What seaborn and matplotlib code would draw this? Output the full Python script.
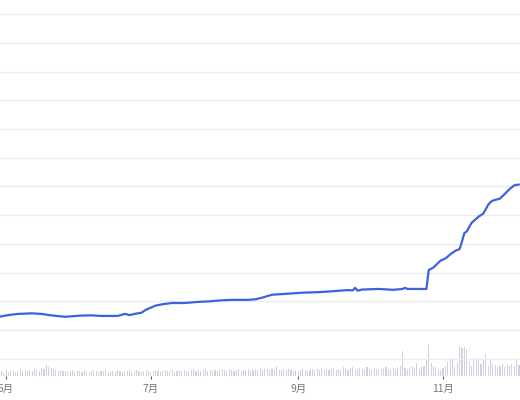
import pandas as pd
import seaborn as sns
import matplotlib.pyplot as plt

# price line at its turning points (no y labels shown, so units are grid steps)
price_dates = ['2023-04-28', '2023-05-02', '2023-05-06', '2023-05-12', '2023-05-16',
               '2023-05-20', '2023-05-26', '2023-06-01', '2023-06-06', '2023-06-10',
               '2023-06-17', '2023-06-20', '2023-06-22', '2023-06-25', '2023-06-27',
               '2023-06-29', '2023-07-03', '2023-07-06', '2023-07-10', '2023-07-15',
               '2023-07-21', '2023-07-26', '2023-07-30', '2023-08-04', '2023-08-11',
               '2023-08-14', '2023-08-17', '2023-08-21', '2023-08-25', '2023-09-03',
               '2023-09-10', '2023-09-17', '2023-09-22', '2023-09-24', '2023-09-25',
               '2023-09-26', '2023-09-28', '2023-10-05', '2023-10-11', '2023-10-15',
               '2023-10-16', '2023-10-17', '2023-10-25', '2023-10-26', '2023-10-28',
               '2023-10-31', '2023-11-02', '2023-11-04', '2023-11-06', '2023-11-08',
               '2023-11-09', '2023-11-10', '2023-11-11', '2023-11-13', '2023-11-16',
               '2023-11-18', '2023-11-20', '2023-11-21', '2023-11-22', '2023-11-25',
               '2023-11-27', '2023-11-29', '2023-12-01', '2023-12-03']
price_values = [2.46, 2.52, 2.56, 2.58, 2.56,
                2.51, 2.46, 2.50, 2.51, 2.49,
                2.49, 2.56, 2.52, 2.575, 2.60,
                2.71, 2.85, 2.90, 2.94, 2.94,
                2.98, 3.00, 3.03, 3.05, 3.05,
                3.07, 3.13, 3.23, 3.25, 3.30,
                3.32, 3.36, 3.39, 3.38, 3.47,
                3.37, 3.41, 3.43, 3.40, 3.43,
                3.47, 3.43, 3.43, 4.09, 4.18,
                4.42, 4.49, 4.63, 4.75, 4.82,
                5.09, 5.38, 5.43, 5.73, 5.95,
                6.06, 6.36, 6.46, 6.51, 6.58,
                6.74, 6.91, 7.04, 7.07]

# daily volume bars (arbitrary units), one list per month
vol_apr = [4, 5, 3]
vol_may = [6, 4, 5, 6, 4, 5, 7, 5, 6, 5,
           6, 5, 7, 6, 5, 8, 7, 11, 9, 8, 7, 6, 5, 6, 5,
           5, 4, 5, 6, 4, 5]
vol_jun = [5, 4, 6, 5, 4, 5, 6, 5, 4, 5, 5, 6, 4, 5, 5,
           4, 6, 5, 4, 5, 5, 6, 4, 5, 6, 5, 4, 5, 6, 5]
vol_jul = [4, 5, 6, 5, 4, 5, 6, 5, 5, 6, 4, 5, 6, 5, 6, 5,
           5, 6, 7, 5, 6, 5, 6, 7, 5, 6, 5, 6, 5, 6, 7]
vol_aug = [6, 5, 7, 6, 5, 6, 7, 5, 6, 6, 7, 5, 6, 7, 6, 8,
           6, 7, 7, 6, 7, 6, 10, 6, 7, 6, 6, 7, 6, 5, 6]
vol_sep = [5, 6, 7, 6, 5, 6, 7, 6, 7, 6, 8, 6, 7, 6, 7,
           8, 6, 7, 6, 9, 7, 6, 8, 9, 6, 7, 8, 7, 6, 9]
vol_oct = [7, 6, 8, 7, 6, 7, 8, 9, 7, 6, 8, 7, 9, 10, 25, 8,
           7, 9, 10, 8, 13, 7, 9, 10, 16, 32, 13, 10, 9, 7, 6]
vol_nov = [8, 10, 14, 17, 18, 9, 13, 30, 28, 29, 27, 14, 10, 18, 17,
           18, 12, 16, 22, 10, 17, 12, 11, 9, 10, 12, 9, 11, 10, 12]
vol_dec = [10, 16, 11]

tick_dates = ['2023-05-01', '2023-07-01', '2023-09-01', '2023-11-01']
tick_labels = ['5月', '7月', '9月', '11月']

price = pd.DataFrame({'date': pd.to_datetime(price_dates), 'price': price_values})
volume = vol_apr + vol_may + vol_jun + vol_jul + vol_aug + vol_sep + vol_oct + vol_nov + vol_dec
vol_dates = pd.date_range('2023-04-28', periods=len(volume), freq='D')

sns.set_theme(style='white')
plt.rcParams['font.family'] = ['Noto Sans CJK SC', 'DejaVu Sans']

fig = plt.figure(figsize=(5.2, 4), dpi=100)
ax = fig.add_axes([0, 0.06, 1, 0.94])
ax_vol = ax.twinx()

# volume underneath
ax_vol.bar(vol_dates, volume, width=0.45, color='#cdd2de', linewidth=0)
ax_vol.set_ylim(0, 376)
ax_vol.set_yticks([])
ax_vol.set_ylabel('')

# price line on top
ax.set_zorder(ax_vol.get_zorder() + 1)
ax.patch.set_visible(False)
sns.lineplot(data=price, x='date', y='price', ax=ax, color='#3c62df', linewidth=1.6)

ax.set_ylim(0.397, 13.498)
ax.set_yticks(range(1, 14))
ax.set_yticklabels([])
ax.yaxis.grid(True, color='#ebebeb', linewidth=0.9)
ax.xaxis.grid(False)
ax.set_xlim(pd.Timestamp('2023-04-28 11:00'), pd.Timestamp('2023-12-03 10:00'))
ax.set_xticks(pd.to_datetime(tick_dates))
ax.set_xticklabels(tick_labels)
ax.tick_params(axis='x', length=2.5, width=0.8, color='#555555', pad=3.5,
               labelsize=7.5, labelcolor='#777777', bottom=True)
ax.tick_params(axis='y', length=0, left=False, right=False)
ax.set_xlabel('')
ax.set_ylabel('')
for a in (ax, ax_vol):
    for s in a.spines.values():
        s.set_visible(False)

fig.savefig('out.png', dpi=100)
